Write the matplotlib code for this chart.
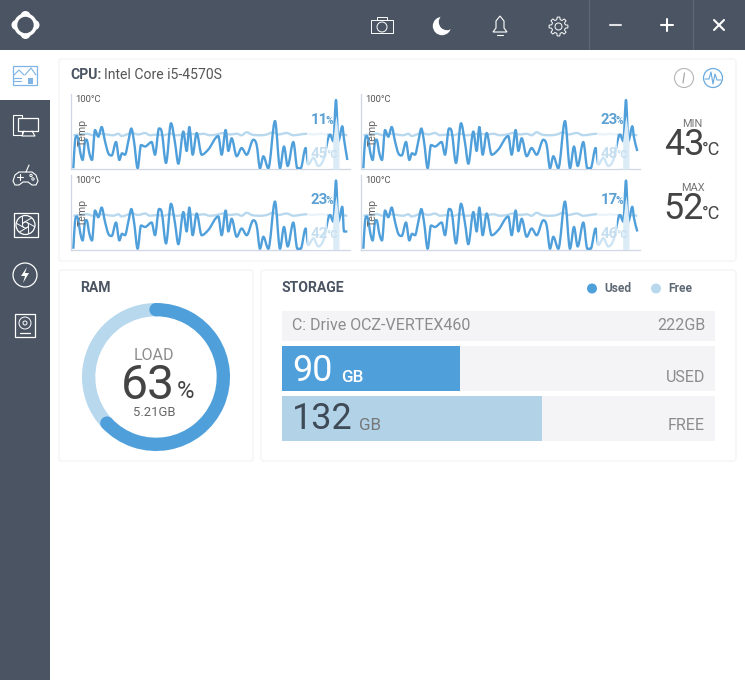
import matplotlib

matplotlib.use("Agg")
import matplotlib.pyplot as plt
import numpy as np
from matplotlib.patches import Circle, FancyBboxPatch, PathPatch, Polygon, Rectangle
from matplotlib.path import Path

plt.rcParams["font.family"] = ["Roboto", "DejaVu Sans"]

W, H = 745, 680
HEADER, BLUE, PALE = "#4a5462", "#4f9fdb", "#b8d8ee"
TEXT, GREY = "#444444", "#8c8c8c"

# sample time of the dark load line, same for all four cores
LOAD_T = [
    0, 5, 10, 15, 20, 28, 35, 40, 48, 56, 65, 75, 85, 95, 105, 115, 128, 138, 146, 155,
    165, 174, 182, 193, 203, 215, 235, 245, 257, 265, 278, 293, 305, 315, 330, 340, 348,
    358, 370, 385, 405, 435, 445, 457, 465, 475, 490, 505, 520, 540, 550, 560, 570, 585,
    605, 620, 632, 643, 660, 672, 682, 697, 705, 720, 735, 750, 770, 780, 788, 795, 807,
    812, 822,
]
LOAD_HEAD = [
    1, 37, 44, 39, 24, 12, 37, 39, 21, 12, 52, 43, 56, 37, 21, 18, 36, 12, 21, 19,
    37, 54, 37, 1, 32, 30, 36, 19, 54, 50, 8, 61, 35, 7, 50, 24, 56,
    19, 48, 19, 26, 44, 19, 52, 24, 41, 17, 28, 19, 39, 32, 1, 17, 1,
    64, 1, 30, 4, 36, 1, 1, 28, 6, 15, 4, 12, 46, 37, 92, 37,
]
CORE_TAILS = [[57, 40, 12], [57, 24, 24], [57, 42, 24], [57, 42, 24]]

TEMP_T = [
    0, 20, 40, 60, 80, 100, 120, 135, 145, 160, 175, 195, 215, 230, 250, 270, 290, 310, 330,
    350, 370, 390, 410, 430, 450, 470, 490, 505, 520, 535, 560, 580, 600, 615, 640, 660,
    680, 700, 720, 740, 760, 780, 800, 822,
]
TEMP = [
    45, 46, 47, 45, 47, 46, 45, 47, 44, 46, 48, 46, 48, 45, 46, 45, 47, 45, 46,
    47, 46, 47, 45, 46, 48, 46, 47, 45, 49, 46, 45, 46, 49, 46, 48, 45,
    46, 47, 46, 47, 46, 45, 46, 45,
]
CORE_LOADS = [11, 23, 23, 17]
CORE_TEMPS = [45, 42, 48, 46]
MIN_TEMP, MAX_TEMP = 43, 52

RAM_LOAD = 63
RAM_GB = 5.21
DISK_TOTAL = 222
DISK_NAMES = ["USED", "FREE"]
DISK_VALUES = [90, 132]
DISK_PCT = [41, 60]


def px_axes(x0, y0, x1, y1, zorder=2):
    ax = fig.add_axes([x0 / W, 1 - y1 / H, (x1 - x0) / W, (y1 - y0) / H], zorder=zorder)
    return ax


def label(x, y, s, size, color=TEXT, weight="normal", ha="left", va="center", zorder=10, **kw):
    # size given in pixels
    return page.text(x, y, s, fontsize=size * 0.72, color=color, weight=weight, ha=ha, va=va,
                     zorder=zorder, **kw)


def card(x0, y0, x1, y1):
    back.add_patch(FancyBboxPatch((x0 + 3, y0 + 3), x1 - x0 - 6, y1 - y0 - 6, boxstyle="round,pad=3",
                                  fc="white", ec="#f4f4f8", lw=1))


def line(xs, ys, color="white", lw=1.0, **kw):
    page.plot(xs, ys, color=color, lw=lw, solid_capstyle="round", zorder=5, **kw)


def ring(x, y, r, color="white", lw=1.0, fc="none"):
    page.add_patch(Circle((x, y), r, fc=fc, ec=color, lw=lw, zorder=5))


def box(x0, y0, x1, y1, color="white", lw=1.0):
    page.add_patch(Rectangle((x0, y0), x1 - x0, y1 - y0, fc="none", ec=color, lw=lw, zorder=5))


def smooth_line(ax, xs, ys, color, lw, zorder):
    # bezier through the samples, flat at turning points so peaks stay round
    xs, ys = np.asarray(xs, float), np.asarray(ys, float)
    slope = np.diff(ys) / np.diff(xs)
    tan = np.zeros(len(xs))
    for i in range(1, len(xs) - 1):
        if slope[i - 1] * slope[i] > 0:
            tan[i] = (slope[i - 1] + slope[i]) / 2
    tan[0], tan[-1] = slope[0], slope[-1]
    verts, codes = [(xs[0], ys[0])], [Path.MOVETO]
    for i in range(len(xs) - 1):
        h = (xs[i + 1] - xs[i]) / 3
        verts += [(xs[i] + h, ys[i] + tan[i] * h), (xs[i + 1] - h, ys[i + 1] - tan[i + 1] * h), (xs[i + 1], ys[i + 1])]
        codes += [Path.CURVE4] * 3
    ax.add_patch(PathPatch(Path(verts, codes), fc="none", ec=color, lw=lw, zorder=zorder, joinstyle="round"))


def draw_header():
    page.add_patch(Rectangle((0, 0), W, 50, fc=HEADER, ec="none"))
    page.add_patch(Rectangle((0, 100), 50, H - 100, fc=HEADER, ec="none"))
    # logo
    for dx, dy in [(0, -9), (0, 9), (-9, 0), (9, 0)]:
        page.add_patch(Circle((25.5 + dx, 25 + dy), 5, fc="white", ec="none", zorder=4))
    ring(25.5, 25, 11, fc="white")
    ring(25.5, 25, 7.5, color=HEADER, fc=HEADER)
    # camera
    box(371, 20, 393, 33, lw=0.7)
    box(377, 17, 387, 20, lw=0.7)
    ring(382, 27, 5, lw=0.7)
    # moon
    ring(442, 26, 8.5, fc="white")
    ring(447, 22, 7.5, color=HEADER, fc=HEADER)
    # bell
    page.add_patch(Polygon([(493, 32), (496, 28), (496, 21), (500, 16), (504, 21), (504, 28), (507, 32)],
                           fc="none", ec="white", lw=0.8, zorder=5))
    line([497, 503], [34.5, 34.5], lw=0.8)
    # gear
    ring(558.5, 26.5, 3.5, lw=0.7)
    teeth_x, teeth_y = [], []
    for a in np.arange(0, 360, 45):
        for da, r in [(-14, 7), (-8, 9.5), (8, 9.5), (14, 7)]:
            teeth_x.append(558.5 + r * np.cos(np.radians(a + da)))
            teeth_y.append(26.5 + r * np.sin(np.radians(a + da)))
    page.add_patch(Polygon(np.column_stack([teeth_x, teeth_y]), fc="none", ec="white", lw=0.7, zorder=5))
    # window buttons
    for x in (589, 693):
        line([x, x], [0, 49], color="#5f6875", lw=0.8)
    line([610, 621], [25, 25], color="#dfe1e4", lw=1.5)
    line([661, 673], [25, 25], lw=1.5)
    line([667, 667], [19, 31], lw=1.5)
    line([714, 724], [20, 30], lw=1.5)
    line([714, 724], [30, 20], lw=1.5)


def draw_sidebar():
    # active tab
    box(13, 66, 37, 85, color="#7fb4e6", lw=0.9)
    line([14, 21], [78, 78], color="#7fb4e6", lw=0.8)
    line([14, 21], [81, 81], color="#7fb4e6", lw=0.8)
    line([14, 19, 24], [75, 70, 75], color="#7fb4e6", lw=0.8)
    line([25, 31, 36], [75, 68, 75], color="#7fb4e6", lw=0.8)
    page.add_patch(Rectangle((28, 78), 5, 6, fc="#7fb4e6", ec="none", zorder=5))
    # monitor
    box(13, 115, 22, 135, lw=0.8)
    page.add_patch(Rectangle((18, 118), 20, 13, fc=HEADER, ec="white", lw=0.9, zorder=5))
    line([24, 22, 35, 32], [131, 136, 136, 131], lw=0.8)
    # gamepad
    page.add_patch(Polygon([(13, 181), (15, 175), (19, 172), (32, 172), (36, 175), (38, 181), (36, 185),
                            (32, 185), (28, 182), (23, 182), (19, 185), (15, 185)],
                           fc="none", ec="white", lw=0.8, zorder=5))
    line([26, 29], [172, 165], lw=0.8)
    line([17, 23], [177, 177], lw=0.8)
    line([20, 20], [174, 180], lw=0.8)
    ring(31, 175.5, 1.2, lw=0.7)
    ring(33, 179, 1.2, lw=0.7)
    # fan
    box(13.5, 213, 37.5, 237, lw=0.9)
    ring(25.5, 225, 9.5, lw=0.9)
    ring(25.5, 225, 3, lw=0.7)
    for a in np.arange(0, 360, 60):
        c, s = np.cos(np.radians(a)), np.sin(np.radians(a))
        c2, s2 = np.cos(np.radians(a + 70)), np.sin(np.radians(a + 70))
        line([25.5 + 3 * c, 25.5 + 9 * c2], [225 + 3 * s, 225 + 9 * s2], lw=0.7)
    # power
    ring(25, 275, 12, lw=0.9)
    page.add_patch(Polygon([(27, 267), (21, 276), (25, 276), (23, 283), (29, 273), (25, 273)], fc="white", ec="none", zorder=5))
    # disk
    box(15, 314, 35, 337, lw=0.9)
    ring(25, 323, 6, lw=0.7)
    ring(25, 323, 2, lw=0.7)
    line([20, 30], [333, 333], lw=0.9)


def draw_core(i):
    x0 = 71 if i < 2 else 361
    base = 169 if i % 2 == 0 else 249.5
    ax = px_axes(x0, base - 75, x0 + 279, base)
    ax.patch.set_alpha(0)
    values = LOAD_HEAD + CORE_TAILS[i]
    smooth_line(ax, TEMP_T, TEMP, PALE, 1.7, 2)
    smooth_line(ax, LOAD_T, values, BLUE, 1.7, 3)
    ax.axvspan(700, 762, color="white", alpha=0.72, lw=0, zorder=4)
    # pale spike under the last peak, its tip stays dark
    peak = [j for j, t in enumerate(LOAD_T) if 780 <= t <= 795]
    ax.fill_between([LOAD_T[j] - 2 for j in peak[:1]] + [LOAD_T[peak[1]]] + [LOAD_T[j] + 2 for j in peak[-1:]],
                    [min(values[j], 72) for j in peak], color="#dcecf7", lw=0, zorder=4)
    ax.set_xlim(-7, 830)
    ax.set_ylim(0, 100)
    ax.set_xticks([])
    ax.set_yticks([])
    for side in ("top", "right"):
        ax.spines[side].set_visible(False)
    for side in ("left", "bottom"):
        ax.spines[side].set_color("#cfd6e4")
        ax.spines[side].set_linewidth(0.9)

    lx = x0 + 239.5
    label(x0 + 4.5, base - 69, "100°C", 9.5, color="#555555")
    label(x0 + 12, base - 37, "Temp", 10.5, color="#666666", rotation=90, ha="center")
    label(lx, base - 49, str(CORE_LOADS[i]), 15, color="#5aa0d2", weight="bold")
    label(lx + 15.5, base - 48, "%", 10, color="#5aa0d2", weight="bold")
    label(lx, base - 15, str(CORE_TEMPS[i]), 15, color="#c6dff0", weight="bold")
    label(lx + 16, base - 14, "°C", 11, color="#c6dff0", weight="bold")


def draw_cpu():
    card(59, 59, 736, 261)
    label(70, 75, "CPU:", 14, color=HEADER, weight="bold")
    label(104, 75, "Intel Core i5-4570S", 14, color="#555555")
    ring(684, 78, 9.5, color="#b5b5b5", lw=0.8)
    line([684.5, 683], [73, 83], color="#a8a8a8", lw=0.9)
    ring(713, 78, 9.5, color="#6aaadf", lw=0.9)
    line([705, 709, 711, 713, 715, 717, 721], [79, 79, 72, 84, 74, 80, 80], color="#6aaadf", lw=0.8)
    for i in range(4):
        draw_core(i)
    label(692.5, 124, "MIN", 11, color="#777777", ha="center")
    label(684, 145, str(MIN_TEMP), 36, ha="center")
    label(711.5, 150, "°C", 18, ha="center")
    label(692.5, 188, "MAX", 11, color="#777777", ha="center")
    label(684, 209, str(MAX_TEMP), 36, ha="center")
    label(711.5, 214, "°C", 18, ha="center")


def draw_ram():
    card(59, 270, 253, 461)
    label(80, 288, "RAM", 14, color=HEADER, weight="bold")
    ax = px_axes(82, 303, 230, 451)
    ax.pie([RAM_LOAD, 100 - RAM_LOAD], colors=[BLUE, PALE], startangle=90, counterclock=False, radius=1,
           wedgeprops={"width": 0.18, "linewidth": 0})
    # round ends of the used arc
    for pct in (0, RAM_LOAD):
        a = np.pi / 2 - 2 * np.pi * pct / 100
        ax.add_patch(Circle((0.91 * np.cos(a), 0.91 * np.sin(a)), 0.09, fc=BLUE, ec="none", zorder=5))
    ax.set_xlim(-1, 1)
    ax.set_ylim(-1, 1)
    label(154, 356, "LOAD", 16, color=GREY, ha="center")
    label(147.5, 386, str(RAM_LOAD), 48, ha="center")
    label(185, 392, "%", 24, ha="center")
    label(154, 412, f"{RAM_GB}GB", 13, color="#666666", ha="center")


def draw_storage():
    card(261, 270, 736, 461)
    label(282, 288, "STORAGE", 14, color=HEADER, weight="bold")
    page.add_patch(Circle((592, 288.5), 5, fc=BLUE, ec="none", zorder=5))
    label(604, 289, "Used", 12, color="#5f6975", weight="bold")
    page.add_patch(Circle((656, 288.5), 5, fc=PALE, ec="none", zorder=5))
    label(668, 289, "Free", 12, color="#5f6975", weight="bold")

    back.add_patch(Rectangle((282, 311), 433, 30, fc="#f4f3f6", ec="none", zorder=3))
    label(292, 325.5, "C: Drive OCZ-VERTEX460", 16, color=GREY)
    label(705, 325.5, f"{DISK_TOTAL}GB", 16, color=GREY, ha="right")

    ax = px_axes(282, 346, 715, 441)
    ax.barh([0, 1], [100, 100], height=0.9, color="#f4f3f6", lw=0)
    ax.barh([0, 1], DISK_PCT, height=0.9, color=[BLUE, "#b2d2e8"], lw=0)
    ax.set_xlim(0, 100)
    ax.set_ylim(1.45, -0.45)
    ax.axis("off")
    colors = ["white", "#3f4a57"]
    units = ["white", "#777777"]
    for i, (name, value) in enumerate(zip(DISK_NAMES, DISK_VALUES)):
        y = 371 + 48 * i
        label(292, y, str(value), 36, color=colors[i])
        label(341 + 18 * i, y + 6, "GB", 17, color=units[i], weight="medium" if i == 0 else "normal")
        label(705, y + 6, name, 16, color=GREY, ha="right")


fig = plt.figure(figsize=(W / 100, H / 100), dpi=100, facecolor="white")
back = fig.add_axes([0, 0, 1, 1], zorder=0)
page = fig.add_axes([0, 0, 1, 1], zorder=5)
for layer in (back, page):
    layer.set_xlim(0, W)
    layer.set_ylim(H, 0)
    layer.axis("off")
    layer.patch.set_alpha(0)

draw_cpu()
draw_ram()
draw_storage()
draw_header()
draw_sidebar()

fig.savefig("out.png", dpi=100)
